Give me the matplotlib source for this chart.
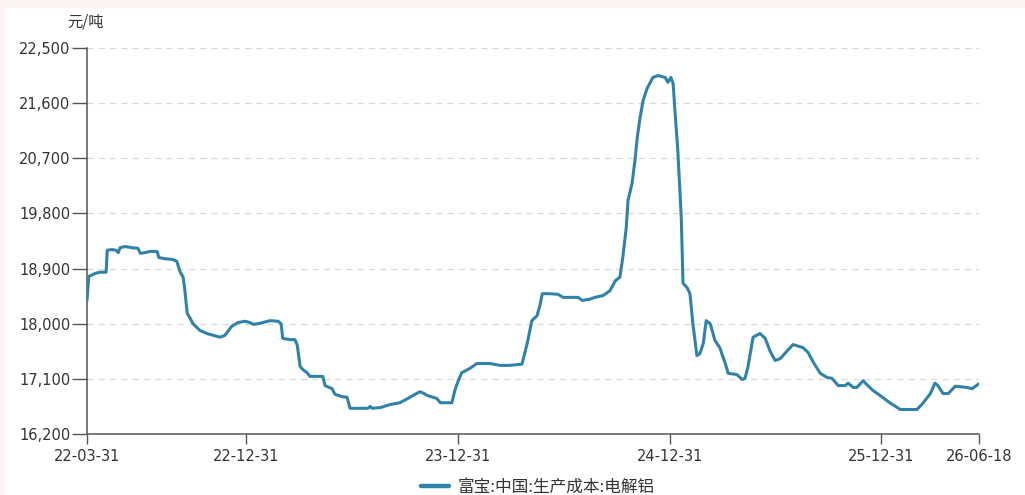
import matplotlib
matplotlib.use("Agg")
import matplotlib.pyplot as plt
import matplotlib.dates as mdates
from matplotlib.ticker import FuncFormatter
from matplotlib.patches import Rectangle
import pandas as pd

series_name = "富宝:中国:生产成本:电解铝"
unit_label = "元/吨"

dates = [
    "2022-03-31", "2022-04-03", "2022-04-14", "2022-04-22", "2022-05-03", "2022-05-05",
    "2022-05-13", "2022-05-20", "2022-05-24", "2022-05-27", "2022-06-05", "2022-06-17",
    "2022-06-27", "2022-07-01", "2022-07-09", "2022-07-18", "2022-07-30", "2022-08-02",
    "2022-08-13", "2022-08-25", "2022-09-02", "2022-09-08", "2022-09-13", "2022-09-16",
    "2022-09-20", "2022-09-25", "2022-09-30", "2022-10-12", "2022-10-24", "2022-11-04",
    "2022-11-16", "2022-11-24", "2022-12-06", "2022-12-17", "2022-12-29", "2023-01-06",
    "2023-01-12", "2023-01-20", "2023-01-29", "2023-02-10", "2023-02-24", "2023-03-01",
    "2023-03-04", "2023-03-17", "2023-03-25", "2023-03-29", "2023-04-03", "2023-04-08",
    "2023-04-15", "2023-04-20", "2023-05-02", "2023-05-12", "2023-05-16", "2023-05-28",
    "2023-06-02", "2023-06-14", "2023-06-23", "2023-06-28", "2023-07-15", "2023-07-29",
    "2023-08-02", "2023-08-05", "2023-08-19", "2023-09-05", "2023-09-22", "2023-10-06",
    "2023-10-15", "2023-10-27", "2023-11-03", "2023-11-08", "2023-11-25", "2023-12-01",
    "2023-12-13", "2023-12-21", "2023-12-26", "2024-01-01", "2024-01-07", "2024-01-21",
    "2024-02-02", "2024-02-25", "2024-03-13", "2024-03-30", "2024-04-20", "2024-04-29",
    "2024-05-07", "2024-05-16", "2024-05-21", "2024-05-25", "2024-06-07", "2024-06-21",
    "2024-06-30", "2024-07-26", "2024-08-02", "2024-08-15", "2024-08-24", "2024-09-07",
    "2024-09-19", "2024-09-28", "2024-10-06", "2024-10-11", "2024-10-17", "2024-10-20",
    "2024-10-27", "2024-11-01", "2024-11-05", "2024-11-10", "2024-11-15", "2024-11-22",
    "2024-12-02", "2024-12-11", "2024-12-23", "2024-12-28", "2025-01-02", "2025-01-06",
    "2025-01-09", "2025-01-14", "2025-01-20", "2025-01-23", "2025-01-30", "2025-02-04",
    "2025-02-09", "2025-02-16", "2025-02-21", "2025-02-27", "2025-03-04", "2025-03-11",
    "2025-03-19", "2025-03-28", "2025-03-31", "2025-04-06", "2025-04-11", "2025-04-26",
    "2025-05-05", "2025-05-10", "2025-05-15", "2025-05-24", "2025-06-05", "2025-06-14",
    "2025-06-22", "2025-07-01", "2025-07-10", "2025-07-22", "2025-08-01", "2025-08-18",
    "2025-08-27", "2025-09-05", "2025-09-17", "2025-09-29", "2025-10-07", "2025-10-18",
    "2025-10-30", "2025-11-04", "2025-11-13", "2025-11-19", "2025-11-30", "2025-12-08",
    "2025-12-17", "2025-12-29", "2026-01-15", "2026-02-02", "2026-02-19", "2026-03-03",
    "2026-03-13", "2026-03-26", "2026-04-03", "2026-04-08", "2026-04-17", "2026-04-26",
    "2026-05-08", "2026-05-28", "2026-06-06", "2026-06-18",
]

values = [
    18380, 18770, 18820, 18840, 18840, 19200,
    19210, 19200, 19160, 19240, 19260, 19240,
    19230, 19150, 19160, 19180, 19180, 19080,
    19060, 19050, 19020, 18840, 18760, 18540,
    18170, 18090, 18000, 17890, 17840, 17810,
    17780, 17810, 17960, 18020, 18040, 18020,
    17990, 18000, 18020, 18050, 18040, 18000,
    17760, 17740, 17740, 17650, 17300, 17250,
    17200, 17140, 17140, 17140, 16990, 16940,
    16850, 16810, 16800, 16620, 16620, 16620,
    16650, 16620, 16630, 16680, 16710, 16780,
    16830, 16890, 16860, 16830, 16780, 16710,
    16710, 16710, 16910, 17070, 17200, 17270,
    17350, 17350, 17320, 17320, 17340, 17680,
    18050, 18130, 18300, 18490, 18490, 18480,
    18430, 18430, 18380, 18400, 18430, 18460,
    18540, 18700, 18760, 19080, 19570, 20010,
    20290, 20660, 21040, 21370, 21640, 21840,
    22020, 22050, 22020, 21940, 22020, 21920,
    21480, 20830, 19730, 18660, 18590, 18490,
    18000, 17480, 17510, 17680, 18050, 18000,
    17730, 17600, 17510, 17350, 17190, 17170,
    17090, 17110, 17290, 17780, 17840, 17760,
    17560, 17400, 17430, 17560, 17660, 17610,
    17530, 17370, 17190, 17120, 17110, 16990,
    16990, 17030, 16960, 16960, 17070, 16990,
    16910, 16830, 16710, 16600, 16600, 16600,
    16700, 16860, 17030, 16990, 16860, 16860,
    16980, 16960, 16940, 17020,
]

x_tick_dates = ["2022-03-31", "2022-12-31", "2023-12-31", "2024-12-31", "2025-12-31", "2026-06-18"]
x_tick_labels = ["22-03-31", "22-12-31", "23-12-31", "24-12-31", "25-12-31", "26-06-18"]
y_ticks = [16200, 17100, 18000, 18900, 19800, 20700, 21600, 22500]

plt.rcParams['font.family'] = ['Noto Sans CJK SC', 'DejaVu Sans']

fig = plt.figure(figsize=(10.25, 4.95), dpi=100)
fig.patch.set_facecolor('#fcf3f3')
fig.patches.append(Rectangle((5 / 1025, 0), 1 - 5 / 1025, 1 - 8 / 495,
                             transform=fig.transFigure, facecolor='white',
                             edgecolor='none', zorder=-10))

ax = fig.add_axes([87 / 1025, (495 - 434) / 495, 892 / 1025, 386 / 495])
ax.set_facecolor('none')

x = pd.to_datetime(dates)
line_color = '#3182a9'
ax.plot(x, values, color=line_color, lw=2.2, solid_joinstyle='round',
        solid_capstyle='round', label=series_name, zorder=3)

ax.set_xlim(pd.Timestamp(x_tick_dates[0]), pd.Timestamp(x_tick_dates[-1]))
ax.set_ylim(y_ticks[0], y_ticks[-1])

ax.set_xticks(pd.to_datetime(x_tick_dates))
ax.set_xticklabels(x_tick_labels, fontfamily='DejaVu Sans', fontsize=10.5, color='#333333')
ax.set_yticks(y_ticks)
ax.yaxis.set_major_formatter(FuncFormatter(lambda v, p: f"{int(v):,}"))
for lbl in ax.get_yticklabels():
    lbl.set_fontfamily('DejaVu Sans')
    lbl.set_fontsize(10.5)
    lbl.set_color('#333333')

ax.tick_params(axis='y', length=11, width=1, color='#555555', pad=1)
ax.tick_params(axis='x', length=7, width=1, color='#555555', pad=4)

for yv in y_ticks[1:]:
    ax.axhline(yv, color='#d9d9d9', lw=0.9, ls=(0, (5, 4)), zorder=1)

for s in ['top', 'right']:
    ax.spines[s].set_visible(False)
for s in ['left', 'bottom']:
    ax.spines[s].set_color('#555555')
    ax.spines[s].set_linewidth(1.1)

fig.text(86 / 1025, 1 - 22 / 495, unit_label, ha='center', va='center',
         fontsize=11, color='#333333')

leg = fig.legend(loc='center', bbox_to_anchor=(538 / 1025, 8 / 495), frameon=False,
                 fontsize=12, handlelength=1.7, handletextpad=0.5)
for t in leg.get_texts():
    t.set_color('#333333')
for h in leg.get_lines():
    h.set_linewidth(3.2)

fig.savefig('out.png', dpi=100, facecolor=fig.get_facecolor())
